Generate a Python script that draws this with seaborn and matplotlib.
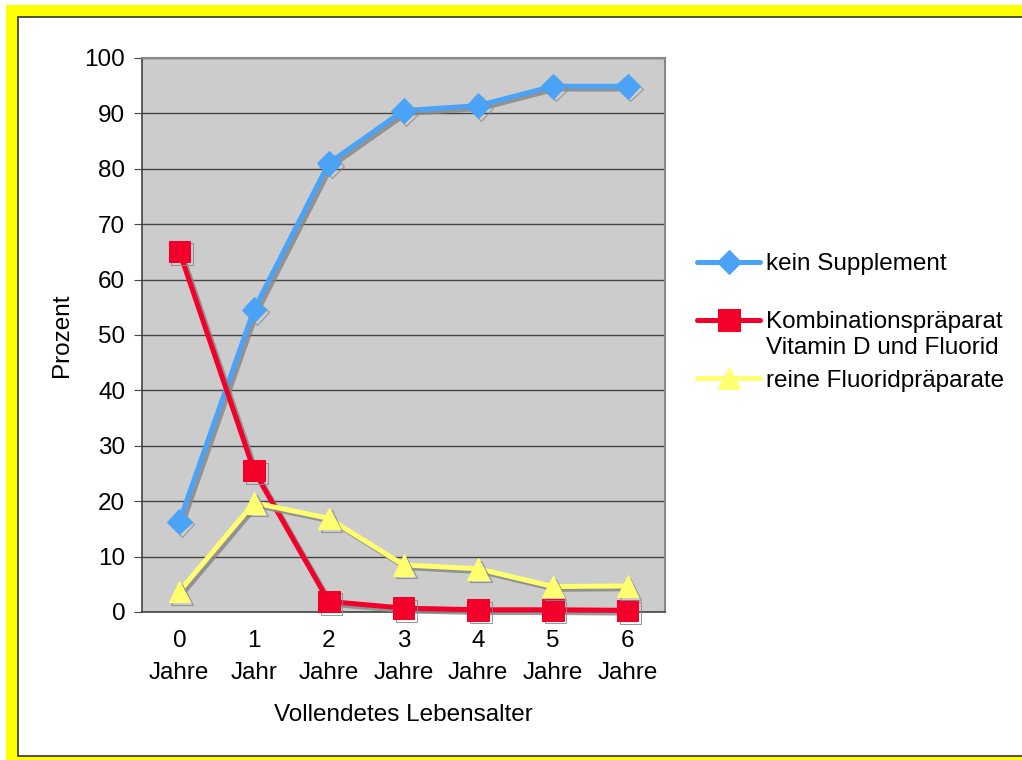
import numpy as np
import pandas as pd
import matplotlib
matplotlib.use("Agg")
import matplotlib.pyplot as plt
import matplotlib.patheffects as pe
from matplotlib.patches import Rectangle
import seaborn as sns

# data
alter = [0, 1, 2, 3, 4, 5, 6]
tick_labels = ["0\nJahre", "1\nJahr", "2\nJahre", "3\nJahre", "4\nJahre", "5\nJahre", "6\nJahre"]
kein_supplement = [16.3, 54.6, 81.0, 90.5, 91.4, 94.9, 94.9]
kombination = [65.1, 25.5, 1.9, 0.7, 0.4, 0.4, 0.3]
fluorid = [3.7, 19.7, 16.9, 8.5, 7.8, 4.6, 4.7]

# the blank line after the first label keeps the extra gap seen in the legend
series = [
    ("kein Supplement\n", kein_supplement, "#4aa3f7", "D", 12.5),
    ("Kombinationspräparat\nVitamin D und Fluorid", kombination, "#f2002a", "s", 15.5),
    ("reine Fluoridpräparate", fluorid, "#ffff70", "^", 15.5),
]

sns.set_style("white")
plt.rcParams["font.family"] = ["Liberation Sans", "DejaVu Sans"]
plt.rcParams["text.color"] = "black"
plt.rcParams["axes.labelcolor"] = "black"
plt.rcParams["xtick.color"] = "black"
plt.rcParams["ytick.color"] = "black"

fs = 17.5

fig = plt.figure(figsize=(10.22, 7.6), dpi=100)
fig.patch.set_facecolor("white")

# yellow frame around the slide
fig.patches.append(Rectangle((6 / 1022, 0), 1.0, 755 / 760, transform=fig.transFigure,
                             facecolor="#ffff00", edgecolor="none", zorder=-2))
fig.patches.append(Rectangle((18 / 1022, 4 / 760), 1.0, 739 / 760, transform=fig.transFigure,
                             facecolor="white", edgecolor="#333333", lw=1.2, zorder=-1))

ax = fig.add_axes([142 / 1022, 148 / 760, 523 / 1022, 554 / 760])
ax.set_facecolor("#cccccc")

shadow = [pe.SimpleLineShadow(offset=(2, -2), shadow_color="#888888", alpha=0.85), pe.Normal()]

for name, vals, col, mk, ms in series:
    df = pd.DataFrame({"x": alter, "y": vals})
    sns.lineplot(data=df, x="x", y="y", ax=ax, color=col, lw=3.6, marker=mk,
                 markersize=ms, markeredgecolor=col, label=name,
                 path_effects=shadow, zorder=3, clip_on=False)

ax.set_xlim(-0.5, 6.5)
ax.set_ylim(0, 100)
ax.set_yticks(np.arange(0, 101, 10))
ax.grid(axis="y", color="#444444", lw=1)
ax.set_axisbelow(True)

ax.set_xticks(alter)
ax.set_xticklabels(tick_labels, fontsize=fs, linespacing=1.6)
ax.set_xticks(np.arange(-0.5, 7, 1), minor=True)
ax.tick_params(axis="x", which="major", length=0, pad=13)
ax.tick_params(axis="x", which="minor", length=6, direction="out", color="#444444", width=1)
ax.tick_params(axis="y", length=6, direction="out", color="#444444", labelcolor="black",
               labelsize=fs, pad=6, left=True)

for side in ["top", "right"]:
    ax.spines[side].set_color("#888888")
    ax.spines[side].set_linewidth(1.5)
for side in ["left", "bottom"]:
    ax.spines[side].set_color("#444444")
    ax.spines[side].set_linewidth(1.2)

ax.set_xlabel("Vollendetes Lebensalter", fontsize=fs, labelpad=14)
ax.set_ylabel("Prozent", fontsize=fs, labelpad=8)

leg = ax.legend(loc="upper left", bbox_to_anchor=(1.061, 0.648), frameon=False,
                fontsize=fs, handlelength=2.6, handletextpad=0.25, labelspacing=0.45,
                borderaxespad=0, borderpad=0)
for h in leg.legend_handles:
    h.set_path_effects([])
for t in leg.get_texts():
    t.set_multialignment("left")
# multi-line entries: handle sits next to the first line
rows = leg._legend_handle_box.get_children()[0].get_children()
rows[0].align = "top"
rows[1].align = "top"

fig.savefig("out.png", dpi=100, facecolor=fig.get_facecolor())
